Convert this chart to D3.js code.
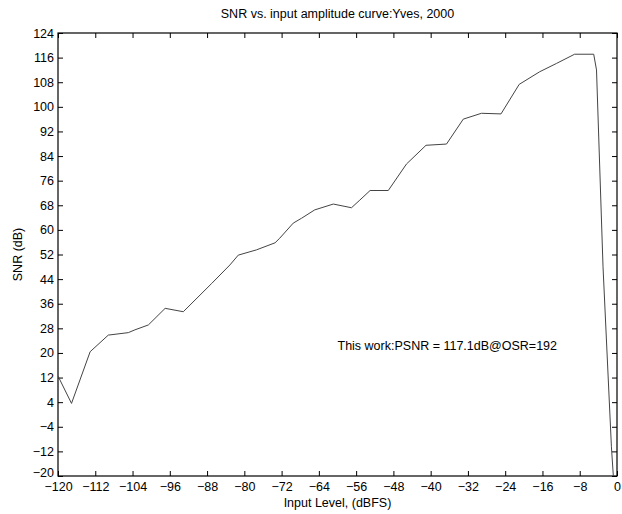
<!DOCTYPE html>
<html>
<head>
<meta charset="utf-8">
<script src="https://cdn.jsdelivr.net/npm/d3@7"></script>
<style>
  body { margin: 0; background: #fff; }
  svg { display: block; }
  text { font-family: "Liberation Sans", Arial, Helvetica, sans-serif; fill: #000; }
</style>
</head>
<body>
<div id="chart"></div>
<script>
var inputLevel = [-120, -117.1, -113.1, -109.2, -104.9, -103.5, -100.6, -97.0, -93.1, -87.0,
                  -83.1, -81.3, -77.4, -73.4, -72.4, -69.5, -67.7, -64.9, -60.9, -57.0,
                  -55.2, -53.0, -49.1, -45.2, -41.0, -36.6, -33.0, -29.1, -24.9, -21.0,
                  -16.6, -13.0, -9.1, -5.0, -4.4, -3.0, -1.2, -0.7];
var snr = [12.5, 3.6, 20.4, 25.8, 26.6, 27.5, 29.1, 34.5, 33.4, 42.6,
           48.6, 51.8, 53.5, 55.8, 57.3, 62.2, 63.8, 66.5, 68.4, 67.2,
           69.7, 72.8, 72.8, 81.4, 87.5, 87.9, 96.0, 97.9, 97.7, 107.3,
           111.4, 114.1, 117.1, 117.1, 112, 48, -10.5, -22];
var xTicks = d3.range(-120, 1, 8);
var yTicks = d3.range(-20, 125, 8);

var titleText = "SNR vs. input amplitude curve:Yves, 2000";
var xLabel = "Input Level, (dBFS)";
var yLabel = "SNR (dB)";
var note = "This work:PSNR = 117.1dB@OSR=192";

var W = 622, H = 514;
var margin = {top: 33, right: 5, bottom: 38, left: 58};
var w = W - margin.left - margin.right;
var h = H - margin.top - margin.bottom;

var svg = d3.select("#chart").append("svg")
    .attr("width", W).attr("height", H);

var g = svg.append("g")
    .attr("transform", "translate(" + margin.left + "," + margin.top + ")");

var x = d3.scaleLinear().domain([-120, 0]).range([0, w]);
var y = d3.scaleLinear().domain([-20, 124]).range([h, 0]);

g.append("clipPath").attr("id", "clip")
  .append("rect").attr("width", w).attr("height", h);

// axes, ticks pointing inward like matlab
var xb = g.append("g").attr("transform", "translate(0," + h + ")")
    .call(d3.axisBottom(x).tickValues(xTicks).tickSize(-5).tickSizeOuter(0).tickPadding(6)
      .tickFormat(function(d) { return d === 0 ? "0" : "\u2212" + Math.abs(d); }));
var xt = g.append("g")
    .call(d3.axisTop(x).tickValues(xTicks).tickSize(-5).tickSizeOuter(0).tickFormat(""));
var yl = g.append("g")
    .call(d3.axisLeft(y).tickValues(yTicks).tickSize(-5).tickSizeOuter(0).tickPadding(4)
      .tickFormat(function(d) { return d < 0 ? "\u2212" + Math.abs(d) : d; }));
var yr = g.append("g").attr("transform", "translate(" + w + ",0)")
    .call(d3.axisRight(y).tickValues(yTicks).tickSize(-5).tickSizeOuter(0).tickFormat(""));

[xb, xt, yl, yr].forEach(function(a) {
  a.select(".domain").remove();
  a.selectAll(".tick line").attr("stroke", "#000").attr("stroke-width", 1);
  a.selectAll("text").style("font-size", "12.5px").attr("fill", "#000")
    .style("font-family", "'Liberation Sans', Arial, sans-serif");
});
// bottom y label sits a little higher so it clears the -120 label
yl.selectAll(".tick").filter(function(d) { return d === -20; })
  .select("text").attr("dy", "0.05em");

g.append("rect").attr("width", w).attr("height", h)
  .attr("fill", "none").attr("stroke", "#000").attr("stroke-width", 1.2);

var pts = inputLevel.map(function(d, i) { return [d, snr[i]]; });
var line = d3.line().x(function(d) { return x(d[0]); }).y(function(d) { return y(d[1]); });

g.append("path").datum(pts)
  .attr("clip-path", "url(#clip)")
  .attr("d", line)
  .attr("fill", "none")
  .attr("stroke", "#444")
  .attr("stroke-width", 1);

g.append("text")
  .attr("x", x(-60)).attr("y", y(20.8))
  .style("font-size", "12.5px")
  .text(note);

svg.append("text")
  .attr("x", margin.left + w / 2).attr("y", 18)
  .attr("text-anchor", "middle")
  .style("font-size", "12.5px")
  .text(titleText);

svg.append("text")
  .attr("x", margin.left + w / 2).attr("y", 507)
  .attr("text-anchor", "middle")
  .style("font-size", "12.5px")
  .text(xLabel);

svg.append("text")
  .attr("transform", "translate(22," + (margin.top + h / 2) + ") rotate(-90)")
  .attr("text-anchor", "middle")
  .style("font-size", "12.5px")
  .text(yLabel);
</script>
</body>
</html>
